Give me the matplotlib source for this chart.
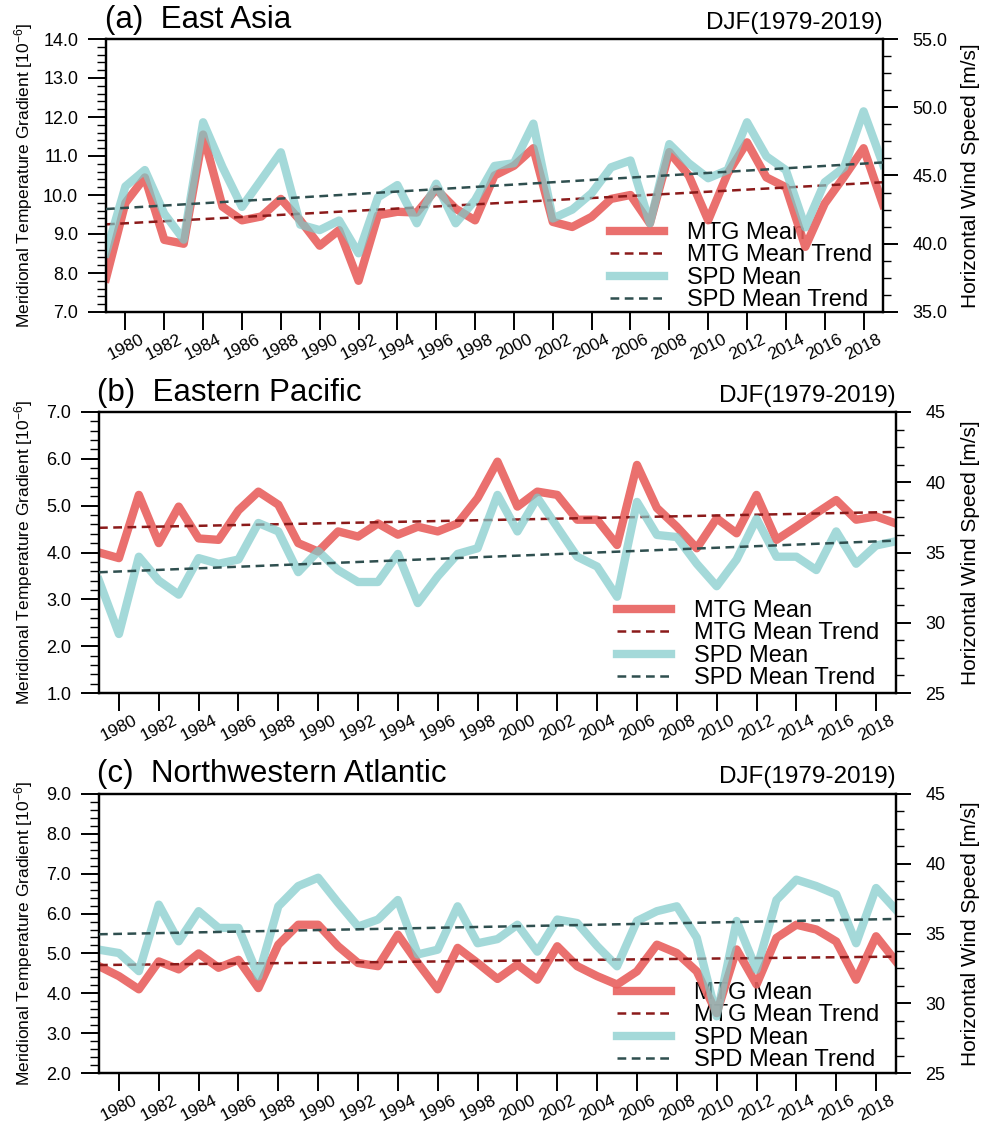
import numpy as np
import matplotlib
matplotlib.use('Agg')
import matplotlib.pyplot as plt
from matplotlib.ticker import MultipleLocator, FormatStrFormatter
from matplotlib.lines import Line2D

plt.rcParams['font.family'] = ['Liberation Sans', 'DejaVu Sans']
plt.rcParams['mathtext.default'] = 'regular'

# ---------------- data ----------------
years = list(range(1979, 2020))
xticks = list(range(1980, 2019, 2))

ea_mtg = [7.86, 9.8, 10.45, 8.85, 8.75, 11.55, 9.7, 9.35, 9.45, 9.9, 9.35, 8.7, 9.1, 7.8,
          9.48, 9.57, 9.55, 10.15, 9.65, 9.35, 10.5, 10.75, 11.2, 9.31, 9.18, 9.44, 9.9,
          10.0, 9.27, 11.1, 10.5, 9.35, 10.55, 11.35, 10.45, 10.2, 8.67, 9.78, 10.47, 11.2, 9.75]
ea_spd = [39.3, 44.2, 45.4, 42.2, 40.3, 48.9, 45.6, 42.7, 44.7, 46.7, 41.4, 41.0, 41.7, 39.3,
          43.4, 44.3, 41.5, 44.4, 41.5, 43.2, 45.7, 45.9, 48.8, 41.85, 42.5, 43.7, 45.6,
          46.1, 41.5, 47.3, 45.9, 44.8, 45.4, 48.9, 46.4, 45.4, 41.2, 44.5, 45.6, 49.7, 45.8]

ep_mtg = [4.0, 3.88, 5.23, 4.2, 4.98, 4.3, 4.27, 4.9, 5.3, 5.02, 4.2, 4.02, 4.45, 4.34,
          4.62, 4.38, 4.55, 4.45, 4.62, 5.16, 5.94, 4.98, 5.3, 5.23, 4.7, 4.7, 4.16, 5.87,
          4.95, 4.55, 4.09, 4.73, 4.41, 5.23, 4.27, 4.55, 4.84, 5.12, 4.7, 4.77, 4.62]
ep_spd = [33.0, 29.2, 34.7, 33.0, 32.0, 34.6, 34.2, 34.5, 37.1, 36.5, 33.6, 35.1, 33.75, 32.9,
          32.9, 34.9, 31.4, 33.3, 34.9, 35.3, 39.1, 36.5, 38.9, 36.8, 34.7, 34.0, 31.85, 38.6,
          36.25, 36.1, 34.2, 32.6, 34.5, 37.4, 34.7, 34.7, 33.75, 36.5, 34.2, 35.5, 35.8]

na_mtg = [4.68, 4.43, 4.1, 4.8, 4.6, 5.0, 4.64, 4.84, 4.13, 5.22, 5.72, 5.72, 5.18, 4.76,
          4.68, 5.47, 4.76, 4.1, 5.14, 4.76, 4.36, 4.72, 4.34, 5.18, 4.68, 4.43, 4.22, 4.55,
          5.22, 5.01, 4.55, 3.5, 5.1, 4.22, 5.39, 5.72, 5.6, 5.3, 4.34, 5.43, 4.8]
na_spd = [33.84, 33.6, 32.3, 37.07, 34.44, 36.6, 35.4, 35.4, 31.93, 36.95, 38.4, 39.0, 37.2, 35.5,
          36.0, 37.4, 33.5, 33.84, 36.95, 34.3, 34.6, 35.63, 33.7, 36.0, 35.75, 34.1, 32.65, 35.9,
          36.6, 36.95, 34.7, 29.06, 35.9, 32.4, 37.4, 38.86, 38.4, 37.8, 34.3, 38.26, 36.7]

titles = ['(a)  East Asia', '(b)  Eastern Pacific', '(c)  Northwestern Atlantic']
period = 'DJF(1979-2019)'
legend_labels = ['MTG Mean', 'MTG Mean Trend', 'SPD Mean', 'SPD Mean Trend']
left_label = 'Meridional Temperature Gradient [10$^{-6}$]'
right_label = 'Horizontal Wind Speed [m/s]'

mtg_all = [ea_mtg, ep_mtg, na_mtg]
spd_all = [ea_spd, ep_spd, na_spd]
left_lims = [(7.0, 14.0), (1.0, 7.0), (2.0, 9.0)]
right_lims = [(35, 55), (25, 45), (25, 45)]
right_fmt = ['%.1f', '%d', '%d']

# ---------------- style ----------------
RED = '#E8605E'
DRED = '#8B1A1A'
TEAL = '#7ECACA'
DSLATE = '#2F4F4F'
DASH = (0, (3.5, 2.2))

W, H = 985, 1130
fig = plt.figure(figsize=(W / 100, H / 100), dpi=100)

def fx(x):
    return x / W

def fy(y):
    return 1 - y / H

boxes = [(106, 883, 39, 312), (99, 896, 412, 693), (99, 896, 794, 1073)]
legend_anchor = [(610, 222), (617, 600), (617, 982)]

for k in range(3):
    l, r, t, b = boxes[k]
    ax1 = fig.add_axes([fx(l), fy(b), (r - l) / W, (b - t) / H])
    ax2 = ax1.twinx()

    yrs = np.array(years, dtype=float)
    mtg = np.array(mtg_all[k])
    spd = np.array(spd_all[k])

    ax1.plot(yrs, mtg, color=RED, lw=6, alpha=0.9, zorder=2)
    c1 = np.polyfit(yrs, mtg, 1)
    ax1.plot(yrs, np.polyval(c1, yrs), color=DRED, lw=1.8, ls=DASH, zorder=3)

    ax2.plot(yrs, spd, color=TEAL, lw=6, alpha=0.7, zorder=2)
    c2 = np.polyfit(yrs, spd, 1)
    ax2.plot(yrs, np.polyval(c2, yrs), color=DSLATE, lw=1.8, ls=DASH, zorder=3)

    ax1.set_xlim(1979, 2019)
    ax1.set_ylim(*left_lims[k])
    ax2.set_ylim(*right_lims[k])

    ax1.set_xticks(xticks)
    ax1.set_xticklabels([str(v) for v in xticks], rotation=27, ha='center', fontsize=12.5)
    ax1.tick_params(axis='x', direction='out', length=13, width=1.4, pad=1)

    ax1.yaxis.set_major_locator(MultipleLocator(1.0))
    ax1.yaxis.set_minor_locator(MultipleLocator(0.2))
    ax1.yaxis.set_major_formatter(FormatStrFormatter('%.1f'))
    ax1.tick_params(axis='y', which='major', direction='out', length=13, width=1.4,
                    labelsize=13, pad=7)
    ax1.tick_params(axis='y', which='minor', direction='out', length=6.5, width=1.0)

    ax2.yaxis.set_major_locator(MultipleLocator(5))
    ax2.yaxis.set_minor_locator(MultipleLocator(1.25))
    ax2.yaxis.set_major_formatter(FormatStrFormatter(right_fmt[k]))
    ax2.tick_params(axis='y', which='major', direction='out', length=11, width=1.4,
                    labelsize=13, pad=10)
    ax2.tick_params(axis='y', which='minor', direction='out', length=6, width=1.0)

    for ax in (ax1, ax2):
        for s in ax.spines.values():
            s.set_linewidth(1.6)

    handles = [Line2D([], [], color=RED, lw=6, alpha=0.9),
               Line2D([], [], color=DRED, lw=1.8, ls=DASH),
               Line2D([], [], color=TEAL, lw=6, alpha=0.7),
               Line2D([], [], color=DSLATE, lw=1.8, ls=DASH)]
    lx, ly = legend_anchor[k]
    leg = ax1.legend(handles, legend_labels, loc='upper left',
                     bbox_to_anchor=(fx(lx), fy(ly)), bbox_transform=fig.transFigure,
                     frameon=False, fontsize=17, handlelength=2.3, handletextpad=0.95,
                     labelspacing=0.02, borderpad=0, borderaxespad=0)
    leg.set_zorder(1)

    # titles
    fig.text(fx(l - 1 if k == 0 else l - 2), fy([28, 401, 782][k]), titles[k],
             fontsize=22.5, ha='left', va='baseline')
    fig.text(fx(r), fy([29, 402, 783][k]), period, fontsize=17.5, ha='right', va='baseline')

    # axis labels
    yc = fy((t + b) / 2)
    fig.text(fx(24), yc, left_label, rotation=90, fontsize=12.5, ha='center', va='center')
    fig.text(fx(971), yc, right_label, rotation=90, fontsize=15, ha='center', va='center')

fig.savefig('out.png', dpi=100)
